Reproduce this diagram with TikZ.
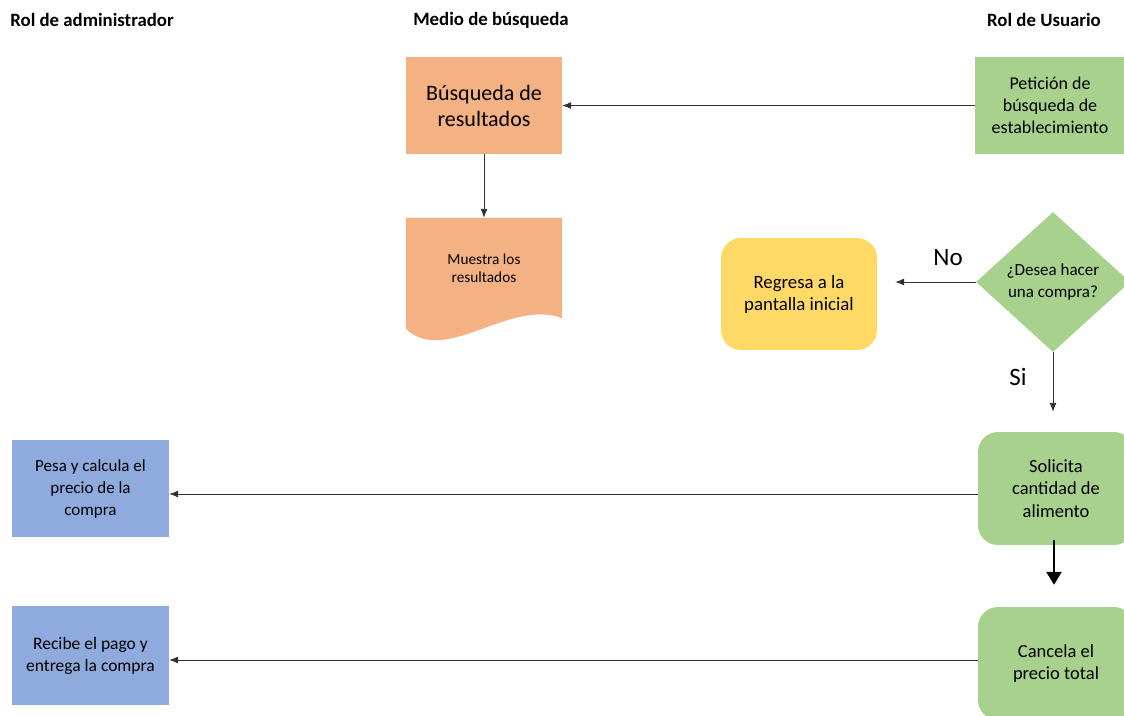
\documentclass[tikz,border=0pt]{standalone}
\usepackage{fontspec}
\setmainfont{Carlito}
\usetikzlibrary{shapes.geometric,arrows.meta,calc}
\definecolor{orangefill}{HTML}{F4B183}
\definecolor{greenfill}{HTML}{A9D18E}
\definecolor{yellowfill}{HTML}{FFD966}
\definecolor{bluefill}{HTML}{8FAADC}
\definecolor{linegray}{HTML}{303030}
\begin{document}
\begin{tikzpicture}[x=1pt,y=-1pt,
  header/.style={font=\bfseries\fontsize{18.8}{22}\selectfont},
  box/.style={minimum width=156pt, minimum height=97pt, inner sep=2pt, align=center,
    font=\fontsize{17}{22}\selectfont},
  rbox/.style={box, rounded corners=20pt},
  label/.style={font=\fontsize{25}{28}\selectfont},
  arr/.style={draw=linegray, line width=0.9pt, -{Latex[length=9pt,width=7pt]}},
  bigarr/.style={draw=black, line width=2.6pt, -{Triangle[length=13pt,width=15pt]}},
]
\useasboundingbox (0,0) rectangle (1124,715);
\clip (0,0) rectangle (1124,715);

% column headers
\node[header] (h1) at (92,20) {Rol de administrador};
\node[header] (h2) at (491,20) {Medio de búsqueda};
\node[header] (h3) at (1044,20) {Rol de Usuario};

% search medium column
\node[box, fill=orangefill, font=\fontsize{22}{26}\selectfont] (bus) at (484,105.5) {Búsqueda de\\resultados};
\node[box, minimum height=100pt] (mue) at (484,268) {};
\fill[orangefill] (mue.north west) -- (mue.north east) -- (mue.south east)
  .. controls (510,298) and (445,366) .. (406,329) -- cycle;
\node[font=\fontsize{15.3}{18}\selectfont, align=center] at (mue.center) {Muestra los\\resultados};

% user column
\node[box, fill=greenfill, minimum width=150pt, font=\fontsize{18}{22}\selectfont] (pet) at (1050,105.5) {Petición de\\búsqueda de\\establecimiento};
\node[diamond, fill=greenfill, minimum width=154pt, minimum height=140pt, inner sep=0pt,
  aspect=1.1, align=center, font=\fontsize{17}{22}\selectfont] (dia) at (1053,282) {¿Desea hacer\\una compra?};
\node[rbox, fill=yellowfill, minimum height=112pt, font=\fontsize{18.8}{22}\selectfont] (reg) at (799,294) {Regresa a la\\pantalla inicial};
\node[rbox, fill=greenfill, minimum height=113pt, font=\fontsize{18.5}{22.5}\selectfont] (sol) at (1056,488.5) {Solicita\\cantidad de\\alimento};
\node[rbox, fill=greenfill, minimum height=113pt, font=\fontsize{18.5}{22.5}\selectfont] (can) at (1056,663.5) {Cancela el\\precio total};

% administrator column
\node[box, fill=bluefill, minimum width=157pt] (pesa) at (90.5,488.5) {Pesa y calcula el\\precio de la\\compra};
\node[box, fill=bluefill, minimum width=157pt, minimum height=99pt, font=\fontsize{17.5}{22}\selectfont] (rec) at (90.5,655.5) {Recibe el pago y\\entrega la compra};

% branch labels
\node[label] (no) at (948,258) {No};
\node[label] (si) at (1018,377) {Si};

% connectors
\draw[arr] (pet.west) -- (bus.east);
\draw[arr] (bus.south) -- (mue.north);
\draw[arr, shorten >=18pt] (dia.west) -- (dia.west -| reg.east);
\draw[arr, shorten >=20pt] (dia.south) -- (dia.south |- sol.north);
\draw[arr] ([yshift=-5.5pt]sol.west) -- ([yshift=-5.5pt]pesa.east);
\draw[bigarr, shorten <=-5pt, shorten >=22pt] ([xshift=-2pt]sol.south) -- ([xshift=-2pt]can.north);
\draw[arr] ([yshift=3.5pt]can.west) -- ([yshift=-4.5pt]rec.east);
\end{tikzpicture}
\end{document}
